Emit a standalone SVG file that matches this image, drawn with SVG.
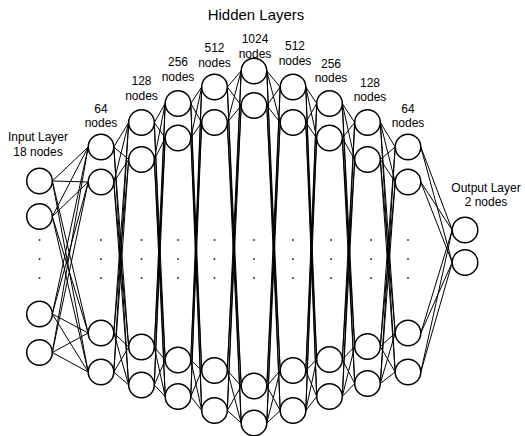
<svg xmlns="http://www.w3.org/2000/svg" width="525" height="436" viewBox="0 0 525 436">
  <style>
    .node { fill: #ffffff; stroke: #000000; stroke-width: 1.5; }
    .edge { stroke: #000000; stroke-width: 1; fill: none; }
    .dot { fill: #333333; }
    text { font-family: "Liberation Sans", Arial, sans-serif; font-size: 12px; fill: #000000; text-anchor: middle; }
    .title { font-size: 15px; }
  </style>
  <rect width="525" height="436" fill="#ffffff"/>

  <!-- Connectors: right point of each node to left point of every node in the next layer -->
  <g id="connectors">
    <!-- input -> 64 -->
    <path class="edge" d="M52.3 181L88.2 147M52.3 181L88.2 182M52.3 181L88.2 333M52.3 181L88.2 372
      M52.3 216.5L88.2 147M52.3 216.5L88.2 182M52.3 216.5L88.2 333M52.3 216.5L88.2 372
      M52.3 314L88.2 147M52.3 314L88.2 182M52.3 314L88.2 333M52.3 314L88.2 372
      M52.3 352.5L88.2 147M52.3 352.5L88.2 182M52.3 352.5L88.2 333M52.3 352.5L88.2 372"/>
    <!-- 64 -> 128 -->
    <path class="edge" d="M113.8 147L128.7 122.5M113.8 147L128.7 159.5M113.8 147L128.7 347M113.8 147L128.7 385
      M113.8 182L128.7 122.5M113.8 182L128.7 159.5M113.8 182L128.7 347M113.8 182L128.7 385
      M113.8 333L128.7 122.5M113.8 333L128.7 159.5M113.8 333L128.7 347M113.8 333L128.7 385
      M113.8 372L128.7 122.5M113.8 372L128.7 159.5M113.8 372L128.7 347M113.8 372L128.7 385"/>
    <!-- 128 -> 256 -->
    <path class="edge" d="M154.3 122.5L165.2 103.5M154.3 122.5L165.2 138M154.3 122.5L165.2 360M154.3 122.5L165.2 396.5
      M154.3 159.5L165.2 103.5M154.3 159.5L165.2 138M154.3 159.5L165.2 360M154.3 159.5L165.2 396.5
      M154.3 347L165.2 103.5M154.3 347L165.2 138M154.3 347L165.2 360M154.3 347L165.2 396.5
      M154.3 385L165.2 103.5M154.3 385L165.2 138M154.3 385L165.2 360M154.3 385L165.2 396.5"/>
    <!-- 256 -> 512 -->
    <path class="edge" d="M190.8 103.5L201.7 87M190.8 103.5L201.7 122.5M190.8 103.5L201.7 370.5M190.8 103.5L201.7 410.5
      M190.8 138L201.7 87M190.8 138L201.7 122.5M190.8 138L201.7 370.5M190.8 138L201.7 410.5
      M190.8 360L201.7 87M190.8 360L201.7 122.5M190.8 360L201.7 370.5M190.8 360L201.7 410.5
      M190.8 396.5L201.7 87M190.8 396.5L201.7 122.5M190.8 396.5L201.7 370.5M190.8 396.5L201.7 410.5"/>
    <!-- 512 -> 1024 -->
    <path class="edge" d="M227.3 87L241.2 71M227.3 87L241.2 105.5M227.3 87L241.2 386M227.3 87L241.2 423
      M227.3 122.5L241.2 71M227.3 122.5L241.2 105.5M227.3 122.5L241.2 386M227.3 122.5L241.2 423
      M227.3 370.5L241.2 71M227.3 370.5L241.2 105.5M227.3 370.5L241.2 386M227.3 370.5L241.2 423
      M227.3 410.5L241.2 71M227.3 410.5L241.2 105.5M227.3 410.5L241.2 386M227.3 410.5L241.2 423"/>
    <!-- 1024 -> 512 -->
    <path class="edge" d="M266.8 71L280.2 87M266.8 71L280.2 122.5M266.8 71L280.2 370.5M266.8 71L280.2 410.5
      M266.8 105.5L280.2 87M266.8 105.5L280.2 122.5M266.8 105.5L280.2 370.5M266.8 105.5L280.2 410.5
      M266.8 386L280.2 87M266.8 386L280.2 122.5M266.8 386L280.2 370.5M266.8 386L280.2 410.5
      M266.8 423L280.2 87M266.8 423L280.2 122.5M266.8 423L280.2 370.5M266.8 423L280.2 410.5"/>
    <!-- 512 -> 256 -->
    <path class="edge" d="M305.8 87L316.7 103.5M305.8 87L316.7 138M305.8 87L316.7 359.5M305.8 87L316.7 396.5
      M305.8 122.5L316.7 103.5M305.8 122.5L316.7 138M305.8 122.5L316.7 359.5M305.8 122.5L316.7 396.5
      M305.8 370.5L316.7 103.5M305.8 370.5L316.7 138M305.8 370.5L316.7 359.5M305.8 370.5L316.7 396.5
      M305.8 410.5L316.7 103.5M305.8 410.5L316.7 138M305.8 410.5L316.7 359.5M305.8 410.5L316.7 396.5"/>
    <!-- 256 -> 128 -->
    <path class="edge" d="M342.3 103.5L354.7 122.5M342.3 103.5L354.7 159.5M342.3 103.5L354.7 346.5M342.3 103.5L354.7 383.5
      M342.3 138L354.7 122.5M342.3 138L354.7 159.5M342.3 138L354.7 346.5M342.3 138L354.7 383.5
      M342.3 359.5L354.7 122.5M342.3 359.5L354.7 159.5M342.3 359.5L354.7 346.5M342.3 359.5L354.7 383.5
      M342.3 396.5L354.7 122.5M342.3 396.5L354.7 159.5M342.3 396.5L354.7 346.5M342.3 396.5L354.7 383.5"/>
    <!-- 128 -> 64 -->
    <path class="edge" d="M380.3 122.5L395.2 147M380.3 122.5L395.2 182M380.3 122.5L395.2 333M380.3 122.5L395.2 372
      M380.3 159.5L395.2 147M380.3 159.5L395.2 182M380.3 159.5L395.2 333M380.3 159.5L395.2 372
      M380.3 346.5L395.2 147M380.3 346.5L395.2 182M380.3 346.5L395.2 333M380.3 346.5L395.2 372
      M380.3 383.5L395.2 147M380.3 383.5L395.2 182M380.3 383.5L395.2 333M380.3 383.5L395.2 372"/>
    <!-- 64 -> output -->
    <path class="edge" d="M420.8 147L452.2 230M420.8 147L452.2 262.5
      M420.8 182L452.2 230M420.8 182L452.2 262.5
      M420.8 333L452.2 230M420.8 333L452.2 262.5
      M420.8 372L452.2 230M420.8 372L452.2 262.5"/>
  </g>

  <!-- Ellipsis dots between the top and bottom nodes of each layer -->
  <g id="ellipses">
    <circle class="dot" cx="39.5" cy="240" r="1"/><circle class="dot" cx="39.5" cy="259" r="1"/><circle class="dot" cx="39.5" cy="278" r="1"/>
    <circle class="dot" cx="101" cy="240" r="1"/><circle class="dot" cx="101" cy="259" r="1"/><circle class="dot" cx="101" cy="278" r="1"/>
    <circle class="dot" cx="141.5" cy="240" r="1"/><circle class="dot" cx="141.5" cy="259" r="1"/><circle class="dot" cx="141.5" cy="278" r="1"/>
    <circle class="dot" cx="178" cy="240" r="1"/><circle class="dot" cx="178" cy="259" r="1"/><circle class="dot" cx="178" cy="278" r="1"/>
    <circle class="dot" cx="214.5" cy="240" r="1"/><circle class="dot" cx="214.5" cy="259" r="1"/><circle class="dot" cx="214.5" cy="278" r="1"/>
    <circle class="dot" cx="254" cy="240" r="1"/><circle class="dot" cx="254" cy="259" r="1"/><circle class="dot" cx="254" cy="278" r="1"/>
    <circle class="dot" cx="293" cy="240" r="1"/><circle class="dot" cx="293" cy="259" r="1"/><circle class="dot" cx="293" cy="278" r="1"/>
    <circle class="dot" cx="331" cy="240" r="1"/><circle class="dot" cx="331" cy="259" r="1"/><circle class="dot" cx="331" cy="278" r="1"/>
    <circle class="dot" cx="371" cy="240" r="1"/><circle class="dot" cx="371" cy="259" r="1"/><circle class="dot" cx="371" cy="278" r="1"/>
    <circle class="dot" cx="408" cy="240" r="1"/><circle class="dot" cx="408" cy="259" r="1"/><circle class="dot" cx="408" cy="278" r="1"/>
  </g>

  <!-- Layers -->
  <g id="input-layer">
    <circle class="node" cx="39.5" cy="181" r="12.8"/>
    <circle class="node" cx="39.5" cy="216.5" r="12.8"/>
    <circle class="node" cx="39.5" cy="314" r="12.8"/>
    <circle class="node" cx="39.5" cy="352.5" r="12.8"/>
    <text x="38" y="141">Input Layer<tspan x="38" dy="14.5">18 nodes</tspan></text>
  </g>
  <g id="hidden-1">
    <circle class="node" cx="101" cy="147" r="12.8"/>
    <circle class="node" cx="101" cy="182" r="12.8"/>
    <circle class="node" cx="101" cy="333" r="12.8"/>
    <circle class="node" cx="101" cy="372" r="12.8"/>
    <text x="101" y="112.5">64<tspan x="101" dy="14.5">nodes</tspan></text>
  </g>
  <g id="hidden-2">
    <circle class="node" cx="141.5" cy="122.5" r="12.8"/>
    <circle class="node" cx="141.5" cy="159.5" r="12.8"/>
    <circle class="node" cx="141.5" cy="347" r="12.8"/>
    <circle class="node" cx="141.5" cy="385" r="12.8"/>
    <text x="141.5" y="85">128<tspan x="141.5" dy="14.5">nodes</tspan></text>
  </g>
  <g id="hidden-3">
    <circle class="node" cx="178" cy="103.5" r="12.8"/>
    <circle class="node" cx="178" cy="138" r="12.8"/>
    <circle class="node" cx="178" cy="360" r="12.8"/>
    <circle class="node" cx="178" cy="396.5" r="12.8"/>
    <text x="178" y="66">256<tspan x="178" dy="14.5">nodes</tspan></text>
  </g>
  <g id="hidden-4">
    <circle class="node" cx="214.5" cy="87" r="12.8"/>
    <circle class="node" cx="214.5" cy="122.5" r="12.8"/>
    <circle class="node" cx="214.5" cy="370.5" r="12.8"/>
    <circle class="node" cx="214.5" cy="410.5" r="12.8"/>
    <text x="214.5" y="52">512<tspan x="214.5" dy="14.5">nodes</tspan></text>
  </g>
  <g id="hidden-5">
    <circle class="node" cx="254" cy="71" r="12.8"/>
    <circle class="node" cx="254" cy="105.5" r="12.8"/>
    <circle class="node" cx="254" cy="386" r="12.8"/>
    <circle class="node" cx="254" cy="423" r="12.8"/>
    <text x="255" y="43">1024<tspan x="255" dy="14.5">nodes</tspan></text>
  </g>
  <g id="hidden-6">
    <circle class="node" cx="293" cy="87" r="12.8"/>
    <circle class="node" cx="293" cy="122.5" r="12.8"/>
    <circle class="node" cx="293" cy="370.5" r="12.8"/>
    <circle class="node" cx="293" cy="410.5" r="12.8"/>
    <text x="295" y="50">512<tspan x="295" dy="14.5">nodes</tspan></text>
  </g>
  <g id="hidden-7">
    <circle class="node" cx="329.5" cy="103.5" r="12.8"/>
    <circle class="node" cx="329.5" cy="138" r="12.8"/>
    <circle class="node" cx="329.5" cy="359.5" r="12.8"/>
    <circle class="node" cx="329.5" cy="396.5" r="12.8"/>
    <text x="331" y="67.5">256<tspan x="331" dy="14.5">nodes</tspan></text>
  </g>
  <g id="hidden-8">
    <circle class="node" cx="367.5" cy="122.5" r="12.8"/>
    <circle class="node" cx="367.5" cy="159.5" r="12.8"/>
    <circle class="node" cx="367.5" cy="346.5" r="12.8"/>
    <circle class="node" cx="367.5" cy="383.5" r="12.8"/>
    <text x="370" y="86.5">128<tspan x="370" dy="14.5">nodes</tspan></text>
  </g>
  <g id="hidden-9">
    <circle class="node" cx="408" cy="147" r="12.8"/>
    <circle class="node" cx="408" cy="182" r="12.8"/>
    <circle class="node" cx="408" cy="333" r="12.8"/>
    <circle class="node" cx="408" cy="372" r="12.8"/>
    <text x="408" y="112.5">64<tspan x="408" dy="14.5">nodes</tspan></text>
  </g>
  <g id="output-layer">
    <circle class="node" cx="465" cy="230" r="12.8"/>
    <circle class="node" cx="465" cy="262.5" r="12.8"/>
    <text x="486" y="191.5">Output Layer<tspan x="486" dy="14.5">2 nodes</tspan></text>
  </g>

  <text class="title" x="256" y="20">Hidden Layers</text>
</svg>
